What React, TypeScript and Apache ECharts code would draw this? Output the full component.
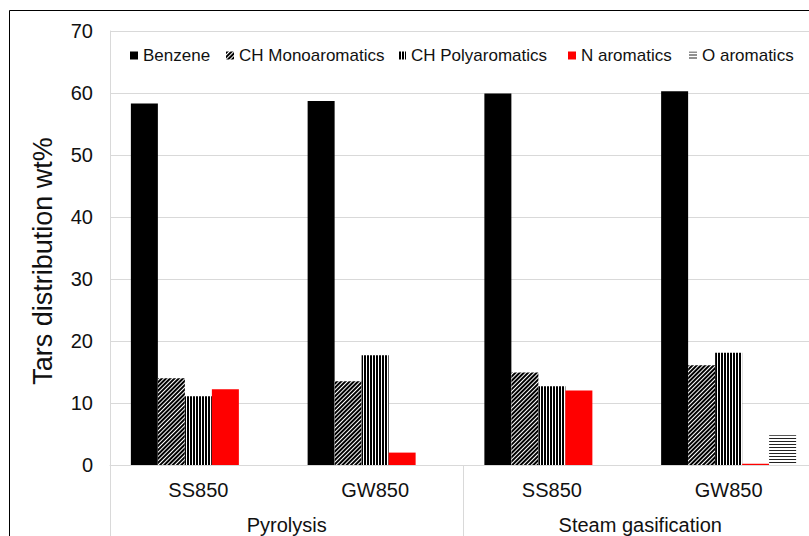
import React, { useEffect, useRef } from 'react';
import * as echarts from 'echarts';

const categories = ['SS850', 'GW850', 'SS850', 'GW850'];
const groups = ['Pyrolysis', 'Steam gasification'];
const seriesNames = ['Benzene', 'CH Monoaromatics', 'CH Polyaromatics', 'N aromatics', 'O aromatics'];
const benzene = [58.3, 58.7, 59.9, 60.3];
const chMono = [14.0, 13.5, 14.9, 16.1];
const chPoly = [11.1, 17.7, 12.7, 18.1];
const nArom = [12.2, 2.0, 12.0, 0.2];
const oArom = [0, 0, 0, 4.8];
const yTicks = { min: 0, max: 70, interval: 10 };
const yTitle = 'Tars distribution wt%';
const legendLefts = [130, 226, 398, 568, 689];

export default function App() {
  const ref = useRef<HTMLDivElement>(null);
  useEffect(() => {
    const chart = echarts.init(ref.current as HTMLDivElement, null, { renderer: 'svg' });
    const font = '"Liberation Sans", Arial, sans-serif';
    const txt = '#111';
    const grey = '#d9d9d9';
    const bar = (name: string, data: number[], color: string, decal?: any) => ({
      type: 'bar',
      name,
      data,
      xAxisIndex: 0,
      barWidth: 27,
      barGap: '0%',
      itemStyle: decal ? { color, decal } : { color },
      emphasis: { disabled: true },
    });
    const mono = { symbol: 'rect', symbolSize: 1, dashArrayX: [1, 0], dashArrayY: [2, 1], rotation: -Math.PI / 4, color: '#000' };
    const poly = { symbol: 'rect', symbolSize: 1, dashArrayX: [1, 0], dashArrayY: [2, 1], rotation: Math.PI / 2, color: '#000' };
    const oDec = { symbol: 'rect', symbolSize: 1, dashArrayX: [1, 0], dashArrayY: [1, 2], rotation: 0, color: '#222' };
    chart.setOption({
      animation: false,
      backgroundColor: '#fff',
      textStyle: { fontFamily: font, color: txt },
      grid: { left: 110, width: 707, top: 31, bottom: 71, containLabel: false, outerBoundsMode: 'none' },
      legend: seriesNames.map((n, i) => ({
        left: legendLefts[i],
        top: 47,
        padding: 0,
        itemWidth: 8,
        itemHeight: 8,
        icon: 'rect',
        textStyle: { fontFamily: font, fontSize: 17, color: txt },
        data: [n],
      })),
      xAxis: [
        {
          type: 'category',
          data: categories,
          axisLine: { show: true, lineStyle: { color: grey, width: 1 } },
          axisTick: { show: false },
          axisLabel: { margin: 15, fontSize: 20, color: txt, fontFamily: font },
          splitLine: { show: false },
        },
        {
          type: 'category',
          data: groups,
          position: 'bottom',
          axisLine: { show: false },
          axisTick: { show: true, length: 71, lineStyle: { color: grey, width: 1 } },
          axisLabel: { margin: 50, fontSize: 20, color: txt, fontFamily: font },
          splitLine: { show: false },
        },
      ],
      yAxis: {
        type: 'value',
        min: yTicks.min,
        max: yTicks.max,
        interval: yTicks.interval,
        axisLine: { show: true, lineStyle: { color: grey, width: 1 } },
        axisTick: { show: false },
        axisLabel: { margin: 17, fontSize: 20, color: txt, fontFamily: font },
        splitLine: { show: true, lineStyle: { color: grey, width: 1 } },
      },
      graphic: [
        {
          type: 'rect',
          shape: { x: 9.5, y: 10.5, width: 830, height: 560 },
          style: { fill: 'none', stroke: '#000', lineWidth: 1 },
          silent: true,
        },
        {
          type: 'text',
          x: 43,
          y: 261,
          rotation: Math.PI / 2,
          style: {
            text: yTitle,
            fontSize: 27,
            fontFamily: font,
            fill: txt,
            align: 'center',
            verticalAlign: 'middle',
          },
        },
      ],
      series: [
        bar(seriesNames[0], benzene, '#000000'),
        bar(seriesNames[1], chMono, '#ffffff', mono),
        bar(seriesNames[2], chPoly, '#ffffff', poly),
        bar(seriesNames[3], nArom, '#ff0000'),
        bar(seriesNames[4], oArom, '#ffffff', oDec),
      ],
    });
    return () => chart.dispose();
  }, []);
  return (
    <div
      ref={ref}
      style={{ position: 'fixed', left: 0, top: 0, width: 809, height: 536, background: '#fff' }}
    />
  );
}
